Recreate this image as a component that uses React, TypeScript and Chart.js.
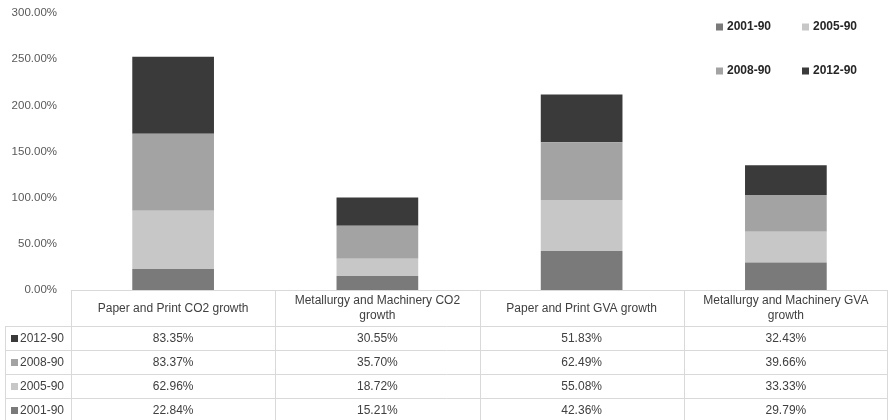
import React, { useEffect, useRef } from "react";
import { Chart, registerables } from "chart.js";

Chart.register(...registerables);

const categories: string[][] = [
  ["Paper and Print CO2 growth"],
  ["Metallurgy and Machinery CO2", "growth"],
  ["Paper and Print GVA growth"],
  ["Metallurgy and Machinery GVA", "growth"],
];
const seriesNames = ["2001-90", "2005-90", "2008-90", "2012-90"];
const s2001 = [22.84, 15.21, 42.36, 29.79];
const s2005 = [62.96, 18.72, 55.08, 33.33];
const s2008 = [83.37, 35.7, 62.49, 39.66];
const s2012 = [83.35, 30.55, 51.83, 32.43];
const seriesValues = [s2001, s2005, s2008, s2012];
const seriesColors = ["#7a7a7a", "#c6c7c6", "#a3a3a3", "#3a3a3a"];
const yMax = 300;
const yStep = 50;

const FONT = "'Liberation Sans', Arial, sans-serif";
const fmt = (v: number) => v.toFixed(2) + "%";

const tablePlugin = {
  id: "dataTable",
  afterDraw(chart: any) {
    const ctx = chart.ctx as CanvasRenderingContext2D;
    const area = chart.chartArea;
    const xs = chart.scales.x;
    const n = categories.length;
    const colW = (area.right - area.left) / n;
    const top = area.bottom;
    const headerH = 36;
    const rowH = 24;
    const leftX = 5;
    const lineColor = "#d9d9d9";
    ctx.save();
    ctx.strokeStyle = lineColor;
    ctx.lineWidth = 1;
    const hline = (x1: number, x2: number, y: number) => {
      ctx.beginPath();
      ctx.moveTo(x1, Math.round(y) + 0.5);
      ctx.lineTo(x2, Math.round(y) + 0.5);
      ctx.stroke();
    };
    const vline = (x: number, y1: number, y2: number) => {
      ctx.beginPath();
      ctx.moveTo(Math.round(x) + 0.5, y1);
      ctx.lineTo(Math.round(x) + 0.5, y2);
      ctx.stroke();
    };
    const bodyTop = top + headerH;
    const rows = seriesNames.length;
    const bottom = bodyTop + rowH * rows;
    hline(area.left, area.right, top);
    for (let i = 0; i <= n; i++) {
      const x = Math.min(area.left + colW * i, area.right - 1);
      vline(x, top, bottom);
    }
    for (let r = 0; r <= rows; r++) hline(leftX, area.right, bodyTop + rowH * r);
    vline(leftX, bodyTop, bottom);

    ctx.font = "12px " + FONT;
    ctx.fillStyle = "#404040";
    ctx.textAlign = "center";
    ctx.textBaseline = "middle";
    for (let i = 0; i < n; i++) {
      const cx = xs.getPixelForValue(i);
      const lines = categories[i];
      const lh = 15;
      const cy = top + headerH / 2 + 0.5 - ((lines.length - 1) * lh) / 2;
      lines.forEach((t, k) => ctx.fillText(t, cx, cy + k * lh));
    }
    for (let r = 0; r < rows; r++) {
      const si = rows - 1 - r;
      const cy = bodyTop + rowH * r + rowH / 2 + 0.5;
      ctx.fillStyle = seriesColors[si];
      ctx.fillRect(11, cy - 3.5, 7, 7);
      ctx.fillStyle = "#404040";
      ctx.textAlign = "left";
      ctx.fillText(seriesNames[si], 20, cy);
      ctx.textAlign = "center";
      for (let i = 0; i < n; i++) {
        ctx.fillText(fmt(seriesValues[si][i]), xs.getPixelForValue(i), cy);
      }
    }

    ctx.font = "bold 12px " + FONT;
    ctx.textAlign = "left";
    const lx = [716, 802];
    const ly = [27, 71];
    seriesNames.forEach((name, k) => {
      const x = lx[k % 2];
      const y = ly[Math.floor(k / 2)];
      ctx.fillStyle = seriesColors[k];
      ctx.fillRect(x, y - 3.5, 7, 7);
      ctx.fillStyle = "#262626";
      ctx.fillText(name, x + 11, y);
    });
    ctx.restore();
  },
};

export default function App() {
  const ref = useRef<HTMLCanvasElement | null>(null);
  useEffect(() => {
    if (!ref.current) return;
    const chart = new Chart(ref.current, {
      type: "bar",
      data: {
        labels: categories,
        datasets: seriesNames.map((name, k) => ({
          label: name,
          data: seriesValues[k],
          backgroundColor: seriesColors[k],
          borderWidth: 0,
          categoryPercentage: 1,
          barPercentage: 0.4,
        })),
      },
      options: {
        responsive: false,
        animation: false,
        layout: { padding: { top: 13, bottom: 130, left: 0, right: 1 } },
        plugins: { legend: { display: false }, tooltip: { enabled: false } },
        scales: {
          x: { stacked: true, display: false },
          y: {
            stacked: true,
            min: 0,
            max: yMax,
            grid: { display: false, drawTicks: false },
            border: { display: false },
            ticks: {
              stepSize: yStep,
              padding: 14,
              color: "#595959",
              font: { size: 11.5, family: FONT },
              callback: (v: any) => fmt(Number(v)),
            },
            afterFit: (scale: any) => {
              scale.width = 71;
              scale.paddingTop = 0;
              scale.paddingBottom = 0;
            },
          },
        },
      },
      plugins: [tablePlugin],
    });
    return () => chart.destroy();
  }, []);
  return (
    <div style={{ position: "absolute", left: 0, top: 0, width: 889, height: 420, background: "#fff" }}>
      <canvas ref={ref} width={889} height={420} style={{ width: 889, height: 420, display: "block" }} />
    </div>
  );
}
